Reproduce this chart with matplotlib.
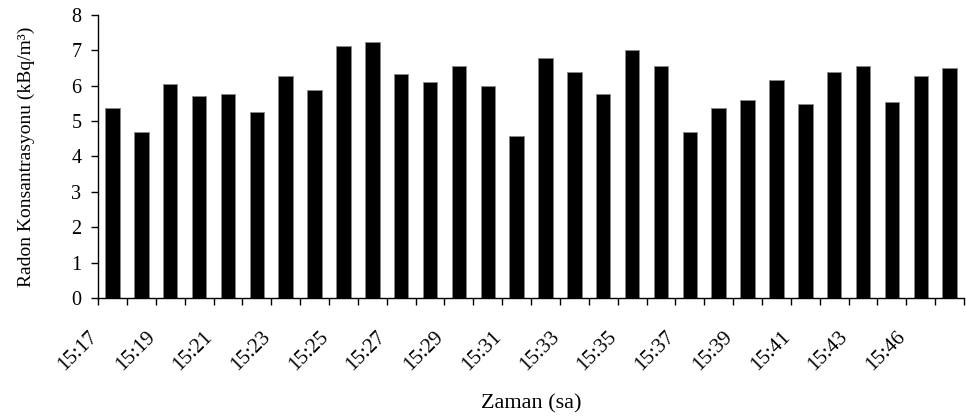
import matplotlib
matplotlib.use('Agg')
import matplotlib.pyplot as plt
import matplotlib.transforms as mtransforms
import numpy as np

plt.rcParams['font.family'] = ['Liberation Serif', 'DejaVu Serif']

times = ['15:17', '15:18', '15:19', '15:20', '15:21', '15:22', '15:23', '15:24',
         '15:25', '15:26', '15:27', '15:28', '15:29', '15:30', '15:31', '15:32',
         '15:33', '15:34', '15:35', '15:36', '15:37', '15:38', '15:39', '15:40',
         '15:41', '15:42', '15:43', '15:44', '15:46', '15:47']
radon = [5.38, 4.70, 6.05, 5.71, 5.77, 5.26, 6.28, 5.88, 7.12, 7.24,
         6.33, 6.11, 6.56, 6.00, 4.59, 6.79, 6.39, 5.77, 7.01, 6.56,
         4.70, 5.38, 5.60, 6.17, 5.49, 6.39, 6.56, 5.55, 6.28, 6.50]

fig = plt.figure(figsize=(9.66, 4.2), dpi=100)
ax = fig.add_axes([0.1015, 0.29, 0.8965, 0.675])

x = np.arange(len(radon))
ax.bar(x, radon, width=0.5, color='black', edgecolor='#888888', linewidth=0.6)

ax.set_xlim(-0.5, len(radon) - 0.5)
ax.set_ylim(0, 8)
ax.set_yticks(range(0, 9))

# ticks between categories, labels on every other bar
ax.set_xticks(np.arange(-0.5, len(radon), 1.0))
ax.set_xticklabels([])
ax.set_xticks(x[::2], minor=True)
ax.set_xticklabels(times[::2], minor=True, rotation=45, ha='right', va='center',
                   rotation_mode='anchor', fontsize=15)
ax.tick_params(axis='x', which='minor', length=0, pad=26)
ax.tick_params(axis='x', which='major', direction='out', length=5, width=1)
ax.tick_params(axis='y', direction='out', length=5, width=1, labelsize=14.5, pad=7)

# shift the rotated labels a bit to the left
shift = mtransforms.ScaledTranslation(-18 / 100, 0, fig.dpi_scale_trans)
for lab in ax.get_xticklabels(minor=True):
    lab.set_transform(lab.get_transform() + shift)

for s in ['top', 'right']:
    ax.spines[s].set_visible(False)
ax.spines['left'].set_linewidth(1)
ax.spines['bottom'].set_linewidth(1)

ax.set_xlabel('Zaman (sa)', fontsize=16, labelpad=14)
ax.set_ylabel('Radon Konsantrasyonu (kBq/m³)', fontsize=14, labelpad=26)

plt.savefig('out.png', dpi=100)
